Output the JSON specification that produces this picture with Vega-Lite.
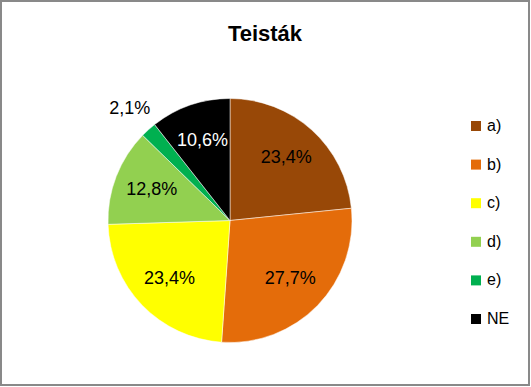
{
  "$schema": "https://vega.github.io/schema/vega-lite/v6.json",
  "width": 528,
  "height": 384,
  "autosize": {"type": "none"},
  "padding": {"left": 1, "top": 1, "right": 2, "bottom": 2},
  "background": "white",
  "title": {"text": "Teisták", "font": "Liberation Sans", "fontSize": 22, "fontWeight": "bold", "color": "black", "anchor": "middle", "offset": -63, "baseline": "alphabetic"},
  "config": {
    "view": {"stroke": null},
    "locale": {"number": {"decimal": ",", "thousands": " ", "grouping": [3], "currency": ["", " Ft"]}}
  },
  "data": {"values": [
    {"cat": "a)", "k": 1, "share": 0.234},
    {"cat": "b)", "k": 2, "share": 0.277},
    {"cat": "c)", "k": 3, "share": 0.234},
    {"cat": "d)", "k": 4, "share": 0.128},
    {"cat": "e)", "k": 5, "share": 0.021},
    {"cat": "NE", "k": 6, "share": 0.106}
  ]},
  "layer": [
    {
      "data": {"values": [{"frame": 1}]},
      "mark": {"type": "rect", "x": 0, "y": 0, "x2": {"expr": "width"}, "y2": {"expr": "height"}, "fill": "white", "fillOpacity": 0, "stroke": "#898989", "strokeWidth": 2},
      "encoding": {}
    },
    {
      "mark": {"type": "arc", "outerRadius": 122, "x": 229, "y": 219.5, "stroke": "white", "strokeWidth": 0.5},
      "encoding": {
        "theta": {"field": "share", "type": "quantitative", "stack": true},
        "order": {"field": "k", "type": "quantitative"},
        "color": {
          "field": "cat", "type": "nominal",
          "scale": {"domain": ["a)", "b)", "c)", "d)", "e)", "NE"], "range": ["#984807", "#E46C0A", "#FFFF00", "#92D050", "#00B050", "#000000"]},
          "legend": {"orient": "none", "legendX": 467, "legendY": 117, "title": null, "symbolType": "square", "symbolSize": 100, "symbolStrokeWidth": 0, "labelFontSize": 16, "labelFont": "Liberation Sans", "labelColor": "black", "rowPadding": 22.6, "labelOffset": 3, "padding": 0}
        }
      }
    },
    {
      "mark": {"type": "text", "x": 229, "y": 219.5, "radius": {"expr": "datum.cat === 'e)' ? 150 : 84"}, "font": "Liberation Sans", "fontSize": 18},
      "encoding": {
        "theta": {"field": "share", "type": "quantitative", "stack": true},
        "order": {"field": "k", "type": "quantitative"},
        "text": {"field": "share", "type": "quantitative", "format": ".1%"},
        "color": {"condition": {"test": "datum.cat === 'NE'", "value": "white"}, "value": "black"}
      }
    }
  ]
}
